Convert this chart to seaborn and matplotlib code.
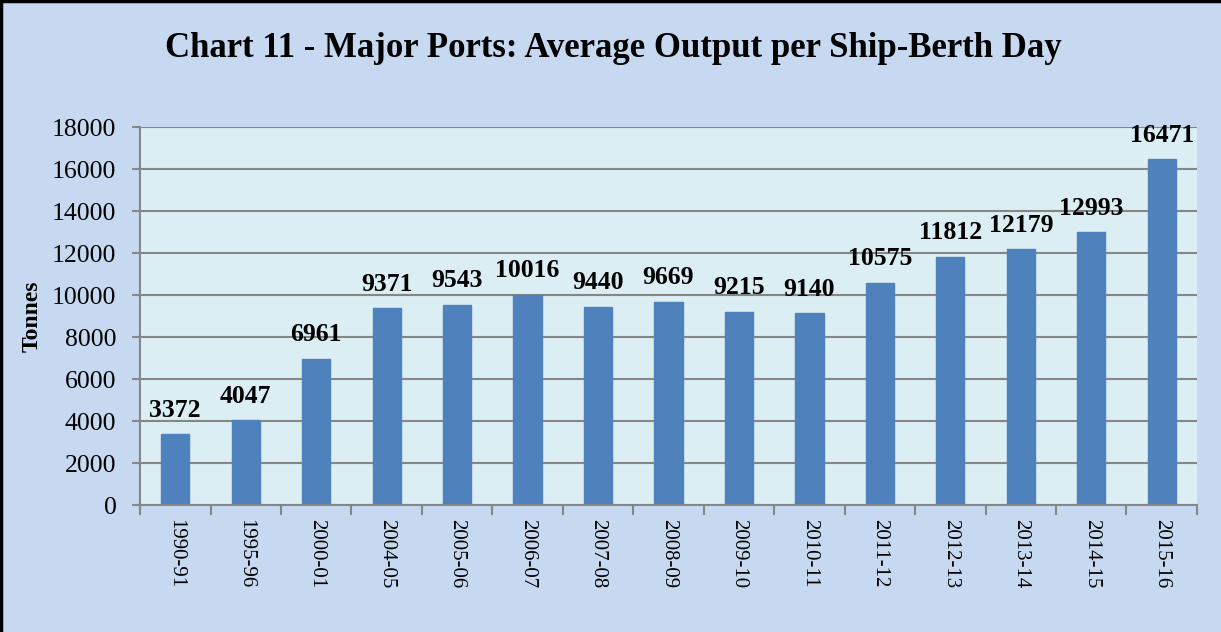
import matplotlib
matplotlib.use("Agg")
import matplotlib.pyplot as plt
import seaborn as sns
import pandas as pd
from matplotlib.patches import Rectangle

years = ["1990-91", "1995-96", "2000-01", "2004-05", "2005-06", "2006-07", "2007-08",
         "2008-09", "2009-10", "2010-11", "2011-12", "2012-13", "2013-14", "2014-15", "2015-16"]
tonnes = [3372, 4047, 6961, 9371, 9543, 10016, 9440, 9669, 9215, 9140, 10575, 11812, 12179, 12993, 16471]
yticks = [0, 2000, 4000, 6000, 8000, 10000, 12000, 14000, 16000, 18000]

sns.set_theme(style="white")
plt.rcParams["font.family"] = ["Liberation Serif", "DejaVu Serif"]
plt.rcParams["text.color"] = "black"
plt.rcParams["axes.labelcolor"] = "black"

df = pd.DataFrame({"Year": years, "Tonnes": tonnes})

fig = plt.figure(figsize=(12.21, 6.32), dpi=100, facecolor="#C6D9F1")
ax = fig.add_axes([0.1147, 0.2009, 0.8656, 0.5981])
ax.set_facecolor("#DBEEF4")

sns.barplot(data=df, x="Year", y="Tonnes", color="#4F81BD", width=0.4, saturation=1,
            edgecolor="#4F81BD", ax=ax)

ax.set_ylim(0, 18000)
ax.set_xlim(-0.5, len(years) - 0.5)
ax.set_yticks(yticks)
ax.set_yticklabels([str(v) for v in yticks], fontsize=18.5)
ax.grid(axis="y", color="#868686", linewidth=1.5)
ax.set_axisbelow(True)

for s in ["top", "right"]:
    ax.spines[s].set_visible(False)
for s in ["left", "bottom"]:
    ax.spines[s].set_color("#868686")
    ax.spines[s].set_linewidth(1.5)

ax.tick_params(axis="y", which="major", length=6, width=1.5, color="#868686", direction="out",
               left=True, pad=11, labelcolor="black")
ax.set_xticks(range(len(years)))
ax.set_xticklabels(years, rotation=-90, fontsize=15)
ax.tick_params(axis="x", which="major", length=0, pad=10, labelcolor="black")
ax.set_xticks([i - 0.5 for i in range(len(years) + 1)], minor=True)
ax.tick_params(axis="x", which="minor", length=7, width=1.5, color="#868686", direction="out", bottom=True)

ax.set_xlabel("")
ax.set_ylabel("Tonnes", fontsize=17, fontweight="bold", labelpad=7, color="black")

for c in ax.containers:
    ax.bar_label(c, labels=[str(v) for v in tonnes], padding=9, fontsize=18.5, fontweight="bold", color="black")

fig.text(0.502, 0.923, "Chart 11 - Major Ports: Average Output per Ship-Berth Day",
         ha="center", va="center", fontsize=25, fontweight="bold", color="black")

fig.patches.append(Rectangle((0.001, -0.1), 1.2, 1.098, transform=fig.transFigure,
                             fill=False, edgecolor="black", linewidth=2.5))

fig.savefig("out.png", dpi=100, facecolor=fig.get_facecolor())
